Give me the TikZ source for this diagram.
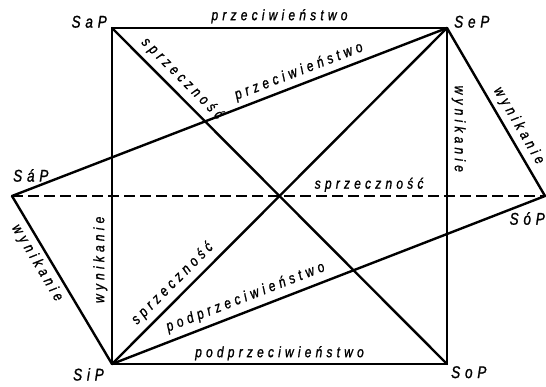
\documentclass[tikz,border=0pt]{standalone}
\usepackage{fontspec}
\newfontfamily\labelfont{Liberation Sans}[FakeStretch=0.8, LetterSpace=28, FakeBold=1.2]

\begin{document}
\begin{tikzpicture}[x=1pt, y=1pt,
    edge/.style={line width=2.4pt, line cap=round, line join=round},
    hidden/.style={line width=1.4pt, dash pattern=on 11pt off 5pt},
    lab/.style={font=\labelfont\itshape\fontsize{15}{15}\selectfont, inner sep=1.5pt},
    corner/.style={font=\labelfont\itshape\fontsize{17}{17}\selectfont, inner sep=0pt}]

    % Fix the page size
    \useasboundingbox (0,0) rectangle (546,386);

    % Define the corners of the square
    \coordinate (SaP) at (112,358);
    \coordinate (SeP) at (447,358);
    \coordinate (SiP) at (112,22);
    \coordinate (SoP) at (447,22);

    % Define the two outer points
    \coordinate (Sap) at (12,190);
    \coordinate (Sop) at (545,190);

    % Draw the square
    \draw[edge] (SaP) -- node[lab, midway, above=2pt] (przTop) {przeciwieństwo} (SeP);
    \draw[edge] (SiP) -- node[lab, midway, above=1pt] (podBot) {podprzeciwieństwo} (SoP);
    \draw[edge] (SiP) -- node[lab, pos=0.31, sloped, above=2pt] (wynL) {wynikanie} (SaP);
    \draw[edge] (SeP) -- node[lab, pos=0.30, sloped, above=2pt] (wynR) {wynikanie} (SoP);

    % Draw the diagonals
    \draw[edge] (SaP) -- node[lab, pos=0.18, sloped, above=4pt] (sprA) {sprzeczność} (SoP);
    \draw[edge] (SiP) -- node[lab, pos=0.21, sloped, above=4pt] (sprB) {sprzeczność} (SeP);

    % Draw the lines to the outer points
    \draw[edge] (Sap) -- node[lab, pos=0.67, sloped, above=3pt] (przMid) {przeciwieństwo} (SeP);
    \draw[edge] (SiP) -- node[lab, pos=0.32, sloped, above=4pt] (podMid) {podprzeciwieństwo} (Sop);
    \draw[edge] (Sap) -- node[lab, pos=0.36, sloped, below=3pt] (wynA) {wynikanie} (SiP);
    \draw[edge] (SeP) -- node[lab, pos=0.62, sloped, above=3pt] (wynB) {wynikanie} (Sop);

    % Draw the dashed line
    \draw[hidden] (Sap) -- node[lab, pos=0.67, above=2pt] (sprC) {sprzeczność} (Sop);

    % Label the points
    \node[corner, anchor=south east] (labSaP) at ([xshift=-5pt, yshift=0pt]SaP) {SaP};
    \node[corner, anchor=south west] (labSeP) at ([xshift=7pt, yshift=0pt]SeP) {SeP};
    \node[corner, anchor=north east] (labSiP) at ([xshift=-8pt, yshift=-4pt]SiP) {SiP};
    \node[corner, anchor=north west] (labSoP) at ([xshift=4pt, yshift=-2pt]SoP) {SoP};
    \node[corner, anchor=south west] (labSap) at ([xshift=1pt, yshift=14pt]Sap) {SáP};
    \node[corner, anchor=north east] (labSop) at ([xshift=0pt, yshift=-16pt]Sop) {SóP};

\end{tikzpicture}
\end{document}
